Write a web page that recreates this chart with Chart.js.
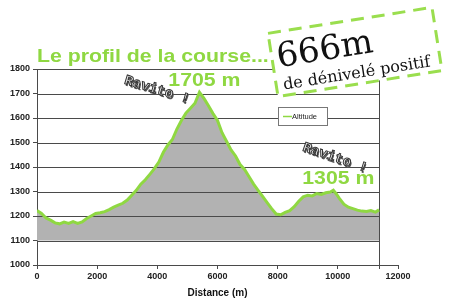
<!DOCTYPE html>
<html>
<head>
<meta charset="utf-8">
<script src="https://cdn.jsdelivr.net/npm/chart.js@4.4.1/dist/chart.umd.min.js"></script>
<style>
  html, body { margin: 0; padding: 0; background: #fff; }
  canvas { display: block; }
</style>
</head>
<body>
<canvas id="chart1" width="450" height="307"></canvas>
<script>
// distance along the course (m) and altitude (m)
const distance = [0, 150, 300, 450, 600, 750, 900, 1050, 1200, 1350, 1500, 1650, 1800, 1950,
  2100, 2250, 2400, 2550, 2700, 2850, 3000, 3150, 3300, 3450, 3600, 3750, 3900, 4050, 4200,
  4350, 4500, 4650, 4800, 4950, 5100, 5250, 5400, 5550, 5700, 5850, 6000, 6150, 6300, 6450,
  6600, 6750, 6900, 7050, 7200, 7350, 7500, 7650, 7800, 7950, 8100, 8250, 8400, 8550, 8700,
  8850, 9000, 9150, 9300, 9450, 9600, 9750, 9850, 9950, 10050, 10200, 10350, 10500, 10650,
  10800, 10950, 11100, 11250, 11370];
const altitude = [1222, 1210, 1192, 1183, 1172, 1168, 1175, 1170, 1177, 1170, 1176, 1190, 1200, 1210,
  1213, 1218, 1226, 1236, 1244, 1252, 1265, 1285, 1305, 1330, 1348, 1370, 1393, 1420, 1460,
  1490, 1512, 1555, 1590, 1620, 1640, 1660, 1705, 1680, 1650, 1618, 1590, 1540, 1505, 1470,
  1445, 1410, 1390, 1360, 1330, 1305, 1280, 1255, 1230, 1208, 1205, 1215, 1222, 1238, 1260,
  1278, 1285, 1282, 1292, 1288, 1295, 1298, 1305, 1290, 1272, 1248, 1236, 1230, 1224,
  1220, 1218, 1222, 1216, 1225];

const seriesLabel = 'Altitude';
const chartTitle = 'Le profil de la course...';
const xTitle = 'Distance (m)';
const peakLabels = ['1705 m', '1305 m'];
const peakDistances = [5400, 9850];
const peakAltitudes = [1705, 1305];
const gainValue = '666m';
const gainText = 'de dénivelé positif';
const ravitoText = 'Ravito !';

const GREEN = '#8fd842';
const GRID = '#4a4a4a';
const TICK_FONT = { size: 9, weight: 'bold', family: '"Liberation Sans", Arial' };

let chart1 = null;

// gridlines stop at the end of the course, like the original plot area
const plotAreaPlugin = {
  id: 'plotArea',
  beforeDatasetDraw(chart) {
    const { ctx, scales: { x, y } } = chart;
    const xEnd = Math.round(x.getPixelForValue(distance[distance.length - 1])) + 0.5;
    ctx.save();
    ctx.strokeStyle = GRID;
    ctx.lineWidth = 1;
    y.ticks.forEach(t => {
      if (t.value === y.min) return;
      const py = Math.round(y.getPixelForValue(t.value)) + 0.5;
      ctx.beginPath();
      ctx.moveTo(x.left, py);
      ctx.lineTo(xEnd, py);
      ctx.stroke();
    });
    ctx.beginPath();
    ctx.moveTo(xEnd, y.top);
    ctx.lineTo(xEnd, y.bottom + 4);
    ctx.stroke();
    ctx.restore();
  }
};

function tilted(ctx, deg, cx, cy, draw) {
  ctx.save();
  ctx.translate(cx, cy);
  ctx.rotate(deg * Math.PI / 180);
  draw();
  ctx.restore();
}

function greenText(ctx, txt, cx, cy, align) {
  ctx.save();
  ctx.translate(cx, cy);
  ctx.scale(1.12, 1);
  ctx.font = 'bold 19px "Liberation Sans", Arial, sans-serif';
  ctx.fillStyle = GREEN;
  ctx.textAlign = align;
  ctx.textBaseline = 'middle';
  ctx.fillText(txt, 0, 0);
  ctx.restore();
}

function ravito(ctx, cx, cy, deg) {
  tilted(ctx, deg, cx, cy, () => {
    ctx.font = 'bold 14px "Liberation Mono", "DejaVu Sans Mono", monospace';
    ctx.textAlign = 'center';
    ctx.textBaseline = 'middle';
    ctx.fillStyle = '#555';
    ctx.fillText(ravitoText, 1.5, 1.5);
    ctx.fillStyle = '#eee';
    ctx.strokeStyle = '#333';
    ctx.lineWidth = 1;
    ctx.fillText(ravitoText, 0, 0);
    ctx.strokeText(ravitoText, 0, 0);
  });
}

const annotationPlugin = {
  id: 'annotations',
  afterDraw(chart) {
    const { ctx, scales: { x, y } } = chart;

    // legend box
    ctx.save();
    ctx.fillStyle = '#fff';
    ctx.strokeStyle = '#777';
    ctx.lineWidth = 1;
    ctx.fillRect(278.5, 107.5, 49, 18);
    ctx.strokeRect(278.5, 107.5, 49, 18);
    ctx.strokeStyle = GREEN;
    ctx.lineWidth = 1.5;
    ctx.beginPath();
    ctx.moveTo(283, 116.5);
    ctx.lineTo(292, 116.5);
    ctx.stroke();
    ctx.fillStyle = '#222';
    ctx.font = '7.5px "Liberation Sans", Arial, sans-serif';
    ctx.textBaseline = 'middle';
    ctx.fillText(seriesLabel, 292, 117);
    ctx.restore();

    // title
    greenText(ctx, chartTitle, 37, 57, 'left');

    // peak labels
    peakLabels.forEach((lbl, i) => {
      const px = x.getPixelForValue(peakDistances[i]);
      const py = y.getPixelForValue(peakAltitudes[i]);
      greenText(ctx, lbl, px + 5, py - 12, 'center');
    });

    ravito(ctx, 157, 90, 17);
    ravito(ctx, 335, 158, 19);

    // dashed box with the total climb
    tilted(ctx, -9, 355, 52, () => {
      ctx.fillStyle = '#fff';
      ctx.fillRect(-83, -32, 166, 64);
      ctx.setLineDash([13, 8]);
      ctx.strokeStyle = '#9ade4e';
      ctx.lineWidth = 3;
      ctx.strokeRect(-83, -32, 166, 64);
      ctx.setLineDash([]);
      ctx.fillStyle = '#111';
      ctx.textBaseline = 'alphabetic';
      ctx.textAlign = 'left';
      ctx.font = '34px "DejaVu Serif", serif';
      ctx.fillText(gainValue, -78, 3);
      ctx.font = '16px "DejaVu Serif", serif';
      ctx.fillText(gainText, -76, 26);
    });
  }
};

function drawChart() {
  if (chart1) chart1.destroy();
  chart1 = new Chart(document.getElementById('chart1'), {
    type: 'line',
    data: {
      datasets: [{
        label: seriesLabel,
        data: distance.map((d, i) => ({ x: d, y: altitude[i] })),
        borderColor: GREEN,
        borderWidth: 3,
        backgroundColor: '#b2b2b2',
        fill: { value: 1100 },
        pointRadius: 0,
        tension: 0
      }]
    },
    options: {
      responsive: false,
      animation: false,
      devicePixelRatio: 1,
      layout: { padding: { top: 69, right: 52, left: 0, bottom: 0 } },
      plugins: { legend: { display: false }, tooltip: { enabled: false } },
      scales: {
        x: {
          type: 'linear',
          min: 0,
          max: 12000,
          afterFit: s => { s.height = 42; },
          ticks: { stepSize: 2000, color: '#222', font: TICK_FONT, padding: 2, maxRotation: 0, callback: v => String(v) },
          grid: { drawOnChartArea: false, tickLength: 4, color: GRID },
          border: { color: GRID },
          title: { display: true, text: xTitle, color: '#111', font: { size: 10, weight: 'bold', family: '"Liberation Sans", Arial' }, padding: { top: 2, bottom: 8 } }
        },
        y: {
          min: 1000,
          max: 1800,
          afterFit: s => { s.width = 37; },
          ticks: { stepSize: 100, color: '#222', font: TICK_FONT, padding: 3, callback: v => String(v) },
          grid: { drawOnChartArea: false, tickLength: 4, color: GRID },
          border: { color: GRID }
        }
      }
    },
    plugins: [plotAreaPlugin, annotationPlugin]
  });
}

document.addEventListener('DOMContentLoaded', drawChart);
</script>
</body>
</html>
